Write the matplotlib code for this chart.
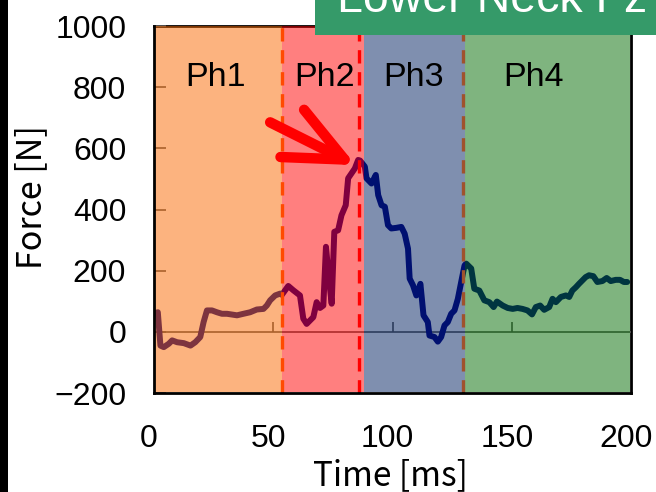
import matplotlib
matplotlib.use('Agg')
import matplotlib.pyplot as plt
from matplotlib.patches import Rectangle
from matplotlib.transforms import ScaledTranslation

plt.rcParams['font.family'] = ['Liberation Sans', 'DejaVu Sans']

# Lower neck axial force over the impact, ms / N
time_ms = [0.7, 1.6, 2.7, 4.1, 6.2, 7.6, 9.7, 12.5, 15.3, 17.3, 19.4, 20.8, 22.2,
           24.3, 26.4, 28.5, 30.6, 34.8, 37.5, 40.3, 43.1, 45.9, 47.3, 48.7, 50.8,
           52.9, 53.6, 56.3, 58.4, 61.2, 62.6, 64.0, 66.8, 68.2, 69.6, 71.0, 72.1,
           73.5, 74.5, 75.6, 77.2, 78.6, 80.4, 81.4, 82.8, 84.2, 85.6, 86.4, 88.4,
           89.1, 91.2, 93.0, 94.0, 95.4, 96.8, 98.1, 99.5, 101.6, 103.7, 105.1,
           106.5, 107.2, 108.6, 110.0, 111.7, 113.0, 114.8, 115.5, 117.6, 119.0,
           120.4, 121.8, 123.2, 124.6, 126.0, 127.4, 128.8, 130.2, 130.9, 133.0,
           134.3, 136.4, 138.5, 140.6, 142.4, 143.8, 146.2, 148.3, 150.4, 152.4,
           154.5, 156.6, 158.5, 160.1, 161.9, 163.6, 165.7, 167.1, 168.5, 170.6,
           172.7, 174.1, 175.4, 176.9, 178.2, 179.6, 181.0, 182.4, 184.2, 185.9,
           188.0, 189.8, 191.5, 193.6, 195.4, 197.0, 198.4]
force_n = [62, 64, -45, -50, -39, -28, -34, -37, -45, -34, -17, 32, 70,
           70, 64, 59, 59, 54, 59, 64, 73, 75, 86, 103, 119,
           125, 121, 150, 136, 119, 43, 26, 48, 97, 78, 86, 278,
           163, 92, 327, 332, 381, 414, 502, 518, 534, 562, 560, 540,
           502, 485, 513, 447, 414, 409, 349, 338, 340, 343, 321,
           272, 174, 152, 119, 157, 54, 32, -12, -17, -32,
           -17, 21, 32, 59, 70, 108, 163, 217, 223, 207,
           141, 135, 103, 97, 81, 99, 86, 78, 75, 78,
           75, 70, 57, 81, 86, 72, 81, 108, 97, 114,
           119, 114, 135, 146, 157, 168, 179, 185, 182, 163,
           166, 176, 166, 170, 170, 163, 163]

phase_names = ['Ph1', 'Ph2', 'Ph3', 'Ph4']
phase_edges = [0.5, 53.6, 88.1, 130.6, 199.5]
phase_colors = ['#FB6900', '#FF0000', '#012161', '#016B01']
phase_label_x = [25.7, 71.7, 108.7, 159.2]
phase_label_y = 803

marker_times = [53.6, 86.0, 129.5]
marker_colors = ['#FF4A00', '#FF0000', '#A0522D']

peak_tail = (48.7, 685)
peak_tip = (84.6, 545)

x_ticks = [0, 50, 100, 150, 200]
y_ticks = [-200, 0, 200, 400, 600, 800, 1000]

W, H = 656, 492
fig = plt.figure(figsize=(W / 100, H / 100), dpi=100)
ax = fig.add_axes([154 / W, 1 - 393 / H, (631 - 154) / W, (393 - 26) / H])

ax.plot(time_ms, force_n, color='#000080', lw=4.3, zorder=2,
        solid_joinstyle='round', solid_capstyle='round')
ax.axhline(0, color='#595959', lw=1.2, zorder=1.8)
ax.vlines(x_ticks[1:-1], 0, 33, color='#595959', lw=1.2, zorder=1.8)

# translucent phase bands sit on top of the trace
for lo, hi, c in zip(phase_edges[:-1], phase_edges[1:], phase_colors):
    ax.axvspan(lo, hi, ymin=0.004, ymax=1, color=c, alpha=0.5, lw=0, zorder=3)

for t, c in zip(marker_times, marker_colors):
    ax.axvline(t, color=c, lw=2.4, ls=(0, (4, 2.6)), zorder=4)

for name, x in zip(phase_names, phase_label_x):
    ax.text(x, phase_label_y, name, ha='center', va='baseline',
            fontsize=24.5, zorder=5)

ax.annotate('', xy=peak_tip, xytext=peak_tail, zorder=6,
            arrowprops=dict(arrowstyle='->,head_length=2.1,head_width=0.95',
                            color='#FF0000', lw=7.5, mutation_scale=20,
                            shrinkA=0, shrinkB=0, capstyle='round',
                            joinstyle='round'))

ax.set_xlim(0, 200)
ax.set_ylim(-200, 1000)
ax.set_xticks(x_ticks)
ax.set_yticks(y_ticks)
ax.set_yticklabels(['\u2212200'] + [str(v) for v in y_ticks[1:]])
ax.tick_params(axis='y', direction='in', length=8.5, width=1.2,
               color='#595959', pad=20, labelsize=23)
ax.tick_params(axis='x', length=0, pad=22, labelsize=23)
shift = ScaledTranslation(-5 / 100, 0, fig.dpi_scale_trans)
for lab in ax.get_xticklabels():
    lab.set_transform(lab.get_transform() + shift)

for side in ['left', 'bottom']:
    ax.spines[side].set(color='black', lw=2, zorder=4)
for side in ['top', 'right']:
    ax.spines[side].set(color='black', lw=2, zorder=1.5)

cjk = ['Noto Sans CJK JP', 'DejaVu Sans']
fig.text(32 / W, 1 - 197 / H, 'Force [N]', rotation=90, ha='center',
         va='center', fontsize=24.5, family=cjk)
fig.text(390 / W, 1 - 485 / H, 'Time [ms]', ha='center', va='baseline',
         fontsize=24, family=cjk)

# title banner, top right
fig.patches.append(Rectangle((315 / W, 1 - 35 / H), 1 - 315 / W, 35 / H,
                             transform=fig.transFigure, facecolor='#359A69',
                             edgecolor='none', zorder=5))
fig.text(337 / W, 1 - 12 / H, 'Lower Neck Fz', color='white', fontsize=33.5,
         ha='left', va='baseline', zorder=6)

fig.patches.append(Rectangle((0, 0), 8 / W, 1, transform=fig.transFigure,
                             facecolor='black', edgecolor='none', zorder=6))

fig.savefig('out.png', dpi=100)
